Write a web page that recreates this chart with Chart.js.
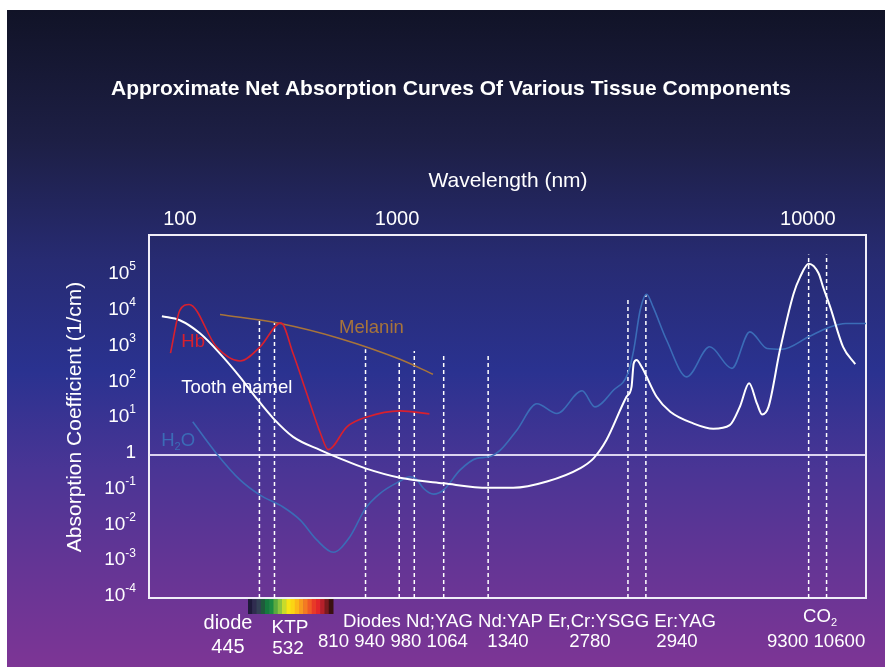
<!DOCTYPE html>
<html>
<head>
<meta charset="utf-8">
<script src="https://cdn.jsdelivr.net/npm/chart.js@4.4.1/dist/chart.umd.min.js"></script>
<style>
  body { margin: 0; background: #fff; }
  #wrap {
    position: absolute; left: 7px; top: 10px; width: 878px; height: 657px;
    background: linear-gradient(to bottom, #111327 0%, #1d1f45 20%, #272b72 38%, #2a3290 55%, #4a3595 70%, #653595 85%, #7d3595 100%);
  }
  canvas { display: block; }
</style>
</head>
<body>
<div id="wrap"><canvas id="chart" width="878" height="657"></canvas></div>
<script>
// x is the position along the (schematic) wavelength axis, 0 = left edge, 100 = right edge
const xTickPos = [4.3, 34.6, 91.9];
const xTickLabels = ['100', '1000', '10000'];
const yTickExp = [5, 4, 3, 2, 1, 0, -1, -2, -3, -4];

const hbPos = [3.0, 4.3, 5.6, 9.4, 12.7, 15.5, 18.4, 20.1, 22.0, 23.9, 25.0, 27.6, 30.4, 35.0, 39.1];
const hbVal = [700, 11000, 16000, 1050, 420, 1050, 4900, 680, 52, 4.1, 1.4, 6.1, 11.5, 17, 14];

const melaninPos = [9.9, 18.3, 26.6, 35.0, 39.6];
const melaninVal = [8400, 4700, 1800, 470, 180];

const enamelPos = [1.8, 4.3, 7.1, 9.9, 12.7, 15.0, 17.3, 20.1, 23.9, 26.6, 30.2, 35.0, 41.1, 47.3, 50.8, 55.5, 60.1, 62.0, 63.8, 66.6, 67.3, 67.6, 68.0, 68.7, 70.8, 72.7, 75.9, 78.7, 81.0, 82.4, 83.7, 84.8, 85.5, 86.4, 88.0, 89.9, 90.8, 92.0, 93.4, 94.0, 95.0, 96.8, 98.5];
const enamelVal = [7500, 5800, 2500, 680, 150, 38, 10.7, 3.2, 1.36, 0.8, 0.42, 0.23, 0.16, 0.12, 0.12, 0.18, 0.42, 0.8, 2.6, 42, 80, 360, 450, 290, 42, 16, 7.6, 5.4, 6.8, 22, 100, 27, 13.5, 22, 850, 32000, 93000, 220000, 117000, 50000, 13700, 1050, 345];

const waterPos = [6.1, 9.4, 12.7, 15.5, 18.7, 21.1, 23.4, 25.7, 28.0, 30.2, 32.2, 34.9, 36.4, 37.3, 38.3, 39.7, 41.1, 43.4, 45.7, 47.3, 49.0, 51.3, 54.1, 56.9, 60.4, 62.2, 64.8, 66.8, 67.6, 68.5, 69.4, 70.3, 72.2, 75.0, 78.2, 81.3, 83.8, 86.2, 88.3, 92.0, 94.8, 97.2, 100];
const waterVal = [8.4, 1.1, 0.2, 0.075, 0.035, 0.015, 0.0042, 0.0019, 0.0051, 0.032, 0.083, 0.18, 0.245, 0.21, 0.115, 0.08, 0.105, 0.38, 0.8, 0.87, 1.36, 4.9, 27, 14.4, 62, 22, 65, 190, 850, 11000, 31000, 13700, 1600, 152, 1050, 262, 2750, 945, 900, 2000, 3650, 4700, 4700];

// laser lines: 445, 532, 810, 940, 980, 1064, 1340, 2780, 2940, 9300, 10600 nm
const laserNm = [445, 532, 810, 940, 980, 1064, 1340, 2780, 2940, 9300, 10600];
const laserPos = [15.4, 17.5, 30.2, 34.9, 37.0, 41.1, 47.3, 66.8, 69.3, 92.0, 94.5];
const laserTop = [6200, 5200, 900, 450, 800, 660, 660, 26000, 31000, 400000, 400000];

const spectrumColors = ['#1e1a3a', '#2f2d4f', '#334055', '#1f5a3c', '#157a3e', '#1c8c42', '#5aaa3f', '#8cc43f',
  '#c8dc2a', '#f5e615', '#fbd414', '#fbb818', '#f79a1e', '#f47a22', '#ef5a26', '#e83a27', '#e2262a', '#b5202a', '#7a1a1e', '#3a1010'];

const FONT = '"Liberation Sans", Arial, Helvetica, sans-serif';

function pts(xs, ys) {
  return xs.map((x, i) => ({ x: x, y: ys[i] }));
}

function curve(label, xs, ys, color, width) {
  return {
    label: label,
    data: pts(xs, ys),
    borderColor: color,
    borderWidth: width,
    pointRadius: 0,
    fill: false,
    cubicInterpolationMode: 'monotone'
  };
}

const datasets = [
  curve('Hb', hbPos, hbVal, '#d8202e', 1.6),
  curve('Melanin', melaninPos, melaninVal, '#a8743a', 1.6),
  curve('Tooth enamel', enamelPos, enamelVal, '#ffffff', 2),
  curve('H2O', waterPos, waterVal, '#3b6cb7', 1.6),
  {
    label: 'one',
    data: [{ x: 0, y: 1 }, { x: 100, y: 1 }],
    borderColor: 'rgba(235,230,250,0.9)',
    borderWidth: 2,
    pointRadius: 0
  }
];

laserPos.forEach((p, i) => {
  datasets.push({
    label: laserNm[i] + ' nm',
    data: [{ x: p, y: 1e-4 }, { x: p, y: laserTop[i] }],
    borderColor: '#ffffff',
    borderWidth: 1.5,
    borderDash: [4, 3],
    pointRadius: 0
  });
});

// text with a lowered small part, e.g. H2O, CO2
function textSub(ctx, parts, x, y, size, align) {
  const small = Math.round(size * 0.6);
  let total = 0;
  parts.forEach(p => {
    ctx.font = (p.sub ? small : size) + 'px ' + FONT;
    total += ctx.measureText(p.t).width;
  });
  let left = align === 'center' ? x - total / 2 : x;
  ctx.textAlign = 'left';
  parts.forEach(p => {
    ctx.font = (p.sub ? small : size) + 'px ' + FONT;
    ctx.fillText(p.t, left, p.sub ? y + size * 0.3 : y);
    left += ctx.measureText(p.t).width;
  });
}

const decor = {
  id: 'decor',
  beforeDatasetsDraw(chart) {
    const ctx = chart.ctx, a = chart.chartArea;
    ctx.save();
    ctx.strokeStyle = '#f0eef8';
    ctx.lineWidth = 2;
    ctx.strokeRect(a.left, a.top, a.right - a.left, a.bottom - a.top);
    ctx.restore();
  },
  afterDraw(chart) {
    const ctx = chart.ctx, a = chart.chartArea;
    const xs = chart.scales.x, ys = chart.scales.y;
    ctx.save();
    ctx.fillStyle = '#ffffff';
    ctx.textBaseline = 'middle';

    // title
    ctx.font = 'bold 21px ' + FONT;
    ctx.textAlign = 'center';
    ctx.fillText('Approximate Net Absorption Curves Of Various Tissue Components', 444, 79);

    // top axis
    ctx.font = '21px ' + FONT;
    ctx.fillText('Wavelength (nm)', 501, 171);
    ctx.font = '20px ' + FONT;
    xTickPos.forEach((p, i) => {
      ctx.fillText(xTickLabels[i], xs.getPixelForValue(p), 209);
    });

    // y axis title
    ctx.save();
    ctx.translate(68, 407);
    ctx.rotate(-Math.PI / 2);
    ctx.font = '21px ' + FONT;
    ctx.fillText('Absorption Coefficient (1/cm)', 0, 0);
    ctx.restore();

    // y ticks with superscripts
    const right = 129;
    yTickExp.forEach(e => {
      const y = ys.getPixelForValue(Math.pow(10, e)) - 2;
      ctx.textAlign = 'right';
      if (e === 0) {
        ctx.font = '19px ' + FONT;
        ctx.fillText('1', right, y);
        return;
      }
      const sup = e < 0 ? '-' + (-e) : String(e);
      ctx.font = '12px ' + FONT;
      const ws = ctx.measureText(sup).width;
      ctx.fillText(sup, right, y - 7);
      ctx.font = '19px ' + FONT;
      ctx.fillText('10', right - ws, y);
    });

    // curve labels
    ctx.textAlign = 'left';
    ctx.font = '18.5px ' + FONT;
    ctx.fillStyle = '#d8202e';
    ctx.fillText('Hb', xs.getPixelForValue(4.5), ys.getPixelForValue(1400));
    ctx.fillStyle = '#a8743a';
    ctx.fillText('Melanin', xs.getPixelForValue(26.5), ys.getPixelForValue(3500));
    ctx.fillStyle = '#ffffff';
    ctx.fillText('Tooth enamel', xs.getPixelForValue(4.5), ys.getPixelForValue(74));
    ctx.fillStyle = '#3b6cb7';
    textSub(ctx, [{ t: 'H' }, { t: '2', sub: true }, { t: 'O' }],
      xs.getPixelForValue(1.7), ys.getPixelForValue(2.4), 18.5, 'left');

    // visible spectrum strip
    const sw = 85 / spectrumColors.length;
    spectrumColors.forEach((c, i) => {
      ctx.fillStyle = c;
      ctx.fillRect(241 + i * sw, a.bottom + 1, sw + 0.5, 15);
    });

    // laser labels
    ctx.fillStyle = '#ffffff';
    ctx.textAlign = 'center';
    ctx.font = '20px ' + FONT;
    ctx.fillText('diode', 221, 613);
    ctx.fillText('445', 221, 637);
    ctx.font = '19px ' + FONT;
    ctx.fillText('KTP', 283, 618);
    ctx.fillText('532', 281, 639);
    ctx.font = '18.6px ' + FONT;
    ctx.textAlign = 'left';
    ctx.fillText('Diodes Nd;YAG Nd:YAP Er,Cr:YSGG Er:YAG', 336, 612);
    ctx.fillText('810 940 980 1064', 311, 632);
    ctx.fillText('9300 10600', 760, 632);
    ctx.textAlign = 'center';
    ctx.fillText('1340', 501, 632);
    ctx.fillText('2780', 583, 632);
    ctx.fillText('2940', 670, 632);
    textSub(ctx, [{ t: 'CO' }, { t: '2', sub: true }], 813, 607, 18.6, 'center');
    ctx.restore();
  }
};

new Chart(document.getElementById('chart'), {
  type: 'line',
  data: { datasets: datasets },
  options: {
    responsive: false,
    animation: false,
    layout: { padding: { left: 142, right: 19, top: 225, bottom: 69 } },
    plugins: { legend: { display: false }, tooltip: { enabled: false } },
    scales: {
      x: { type: 'linear', min: 0, max: 100, display: false },
      y: { type: 'logarithmic', min: 1e-4, max: 1.4e6, display: false }
    }
  },
  plugins: [decor]
});
</script>
</body>
</html>
